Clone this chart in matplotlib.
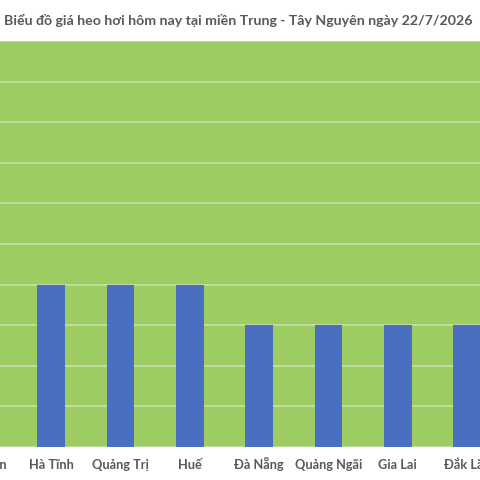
import matplotlib
matplotlib.use("Agg")
import matplotlib.pyplot as plt

# Gia heo hoi (nghin dong/kg) - mien Trung, Tay Nguyen
provinces = ["Nghệ An", "Hà Tĩnh", "Quảng Trị", "Huế", "Đà Nẵng",
             "Quảng Ngãi", "Gia Lai", "Đắk Lắk"]
prices = [62, 62, 62, 62, 61, 61, 61, 61]
y_ticks = list(range(58, 69))

title = "Biểu đồ giá heo hơi hôm nay tại miền Trung - Tây Nguyên ngày 22/7/2026"

plt.rcParams['font.family'] = ['Lato', 'DejaVu Sans']

fig = plt.figure(figsize=(4.8, 4.8), dpi=100)
# plot area runs past the left/right edge of the picture (cropped chart)
ax = fig.add_axes([-0.1104, 0.0688, 1.156, 0.8458])
ax.set_facecolor('#9dcc62')

x = range(len(provinces))
ax.bar(x, prices, width=0.4, color='#4a6fc0', zorder=3)
ax.set_xlim(-0.5, len(provinces) - 0.5)
ax.set_ylim(y_ticks[0], y_ticks[-1])
ax.set_yticks(y_ticks)
ax.set_yticklabels([])
ax.yaxis.grid(True, color='#c9dcb0', linewidth=1.2, zorder=1)
ax.set_axisbelow(True)

ax.set_xticks(x)
ax.set_xticklabels([])
ax.tick_params(axis='both', length=0)
# category labels on a common baseline
for i, name in zip(x, provinces):
    ax.text(i, -0.054, name, transform=ax.get_xaxis_transform(), ha='center',
            va='baseline', fontsize=9.2, fontweight='bold', color='#595959')
for s in ax.spines.values():
    s.set_visible(False)

fig.text(0.496, 0.948, title, ha='center', va='baseline', fontsize=10.2,
         fontweight='bold', color='#595959')

fig.savefig("out.png", dpi=100)
